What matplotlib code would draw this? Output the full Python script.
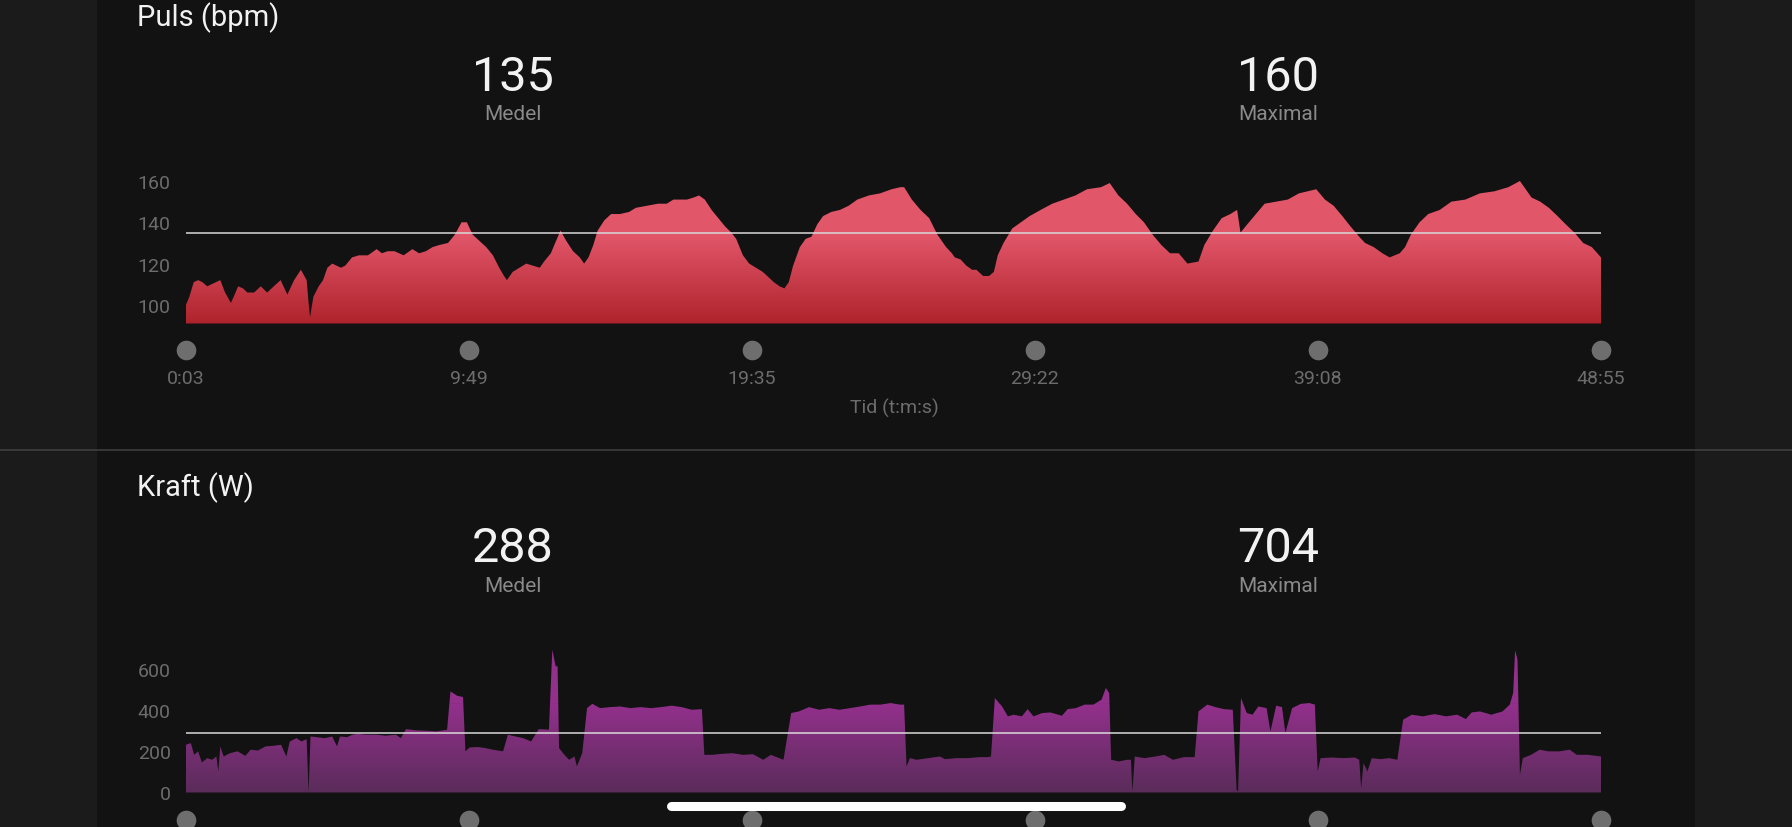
import matplotlib
matplotlib.use("Agg")
import matplotlib.pyplot as plt
import matplotlib.transforms as mtransforms
from matplotlib.colors import LinearSegmentedColormap
from matplotlib.patches import Rectangle
from matplotlib.lines import Line2D
import numpy as np

plt.rcParams['font.family'] = ['Roboto', 'DejaVu Sans']

# heart rate (time in s, bpm)
hr_time = [3, 10, 19, 28, 37, 47, 56, 65, 74, 84,
           96, 102, 111, 121, 130, 144, 158, 171, 185, 199,
           213, 227, 241, 253, 257, 260, 267, 278, 287, 296,
           306, 315, 324, 333, 347, 361, 380, 398, 409, 421,
           435, 454, 472, 486, 500, 514, 528, 546, 560, 574,
           585, 597, 611, 625, 639, 652, 662, 668, 680, 694,
           708, 722, 736, 745, 759, 768, 779, 791, 805, 819,
           828, 837, 847, 856, 870, 884, 902, 921, 935, 958,
           981, 999, 1013, 1041, 1055, 1066, 1078, 1092, 1106, 1120,
           1133, 1143, 1157, 1170, 1184, 1198, 1212, 1221, 1233, 1243,
           1252, 1261, 1275, 1287, 1299, 1311, 1323, 1340, 1358, 1376,
           1394, 1418, 1441, 1465, 1483, 1491, 1507, 1525, 1543, 1560,
           1578, 1590, 1596, 1608, 1620, 1632, 1641, 1650, 1655, 1667,
           1677, 1685, 1697, 1715, 1733, 1751, 1774, 1798, 1822, 1846,
           1870, 1899, 1917, 1935, 1953, 1971, 1988, 2006, 2024, 2042,
           2060, 2078, 2101, 2113, 2131, 2149, 2167, 2181, 2188, 2202,
           2220, 2238, 2262, 2286, 2309, 2327, 2345, 2363, 2381, 2399,
           2416, 2434, 2446, 2464, 2482, 2497, 2518, 2529, 2541, 2559,
           2577, 2601, 2625, 2654, 2684, 2714, 2743, 2767, 2791, 2809,
           2827, 2845, 2862, 2880, 2898, 2916, 2935]
hr_bpm = [100, 104, 111, 112, 111, 109, 110, 111, 112, 106,
          101, 104, 109, 108, 106, 106, 109, 106, 109, 112,
          105, 112, 117, 112, 101, 94, 104, 109, 112, 118,
          120, 119, 118, 119, 123, 124, 124, 127, 125, 126,
          126, 124, 127, 125, 126, 128, 129, 130, 134, 140,
          140, 134, 131, 128, 124, 118, 114, 112, 116, 118,
          120, 119, 118, 121, 125, 130, 136, 131, 126, 123,
          120, 123, 129, 136, 141, 144, 144, 145, 147, 148,
          149, 149, 151, 151, 152, 153, 151, 146, 142, 138,
          135, 132, 124, 120, 118, 116, 113, 111, 109, 108,
          111, 119, 128, 132, 133, 139, 143, 145, 146, 148,
          151, 153, 154, 156, 157, 157, 151, 146, 142, 134,
          128, 125, 123, 122, 119, 117, 117, 115, 114, 114,
          116, 124, 130, 137, 140, 143, 146, 149, 151, 153,
          156, 157, 159, 153, 149, 144, 140, 134, 129, 125,
          125, 120, 121, 129, 136, 142, 144, 146, 135, 139,
          144, 149, 150, 151, 154, 155, 156, 151, 148, 143,
          138, 133, 130, 128, 125, 123, 125, 128, 134, 140,
          144, 146, 150, 151, 154, 155, 157, 160, 152, 150,
          147, 143, 139, 135, 130, 128, 123]

# power (time in s, watts)
pw_time = [3, 13, 20, 28, 36, 47, 57, 66, 70, 74,
           81, 94, 110, 126, 137, 152, 168, 184, 200, 211,
           218, 232, 242, 253, 257, 261, 274, 290, 306, 316,
           322, 337, 348, 359, 374, 396, 417, 438, 448, 459,
           480, 501, 522, 544, 551, 565, 577, 582, 591, 607,
           623, 639, 660, 670, 686, 702, 718, 734, 755, 762,
           769, 773, 776, 787, 797, 808, 813, 824, 834, 845,
           861, 882, 903, 924, 945, 966, 988, 1009, 1030, 1051,
           1072, 1077, 1093, 1114, 1135, 1157, 1178, 1199, 1215, 1241,
           1257, 1273, 1294, 1315, 1336, 1357, 1379, 1400, 1421, 1442,
           1463, 1482, 1491, 1496, 1503, 1517, 1541, 1565, 1576, 1600,
           1623, 1647, 1665, 1671, 1679, 1694, 1706, 1718, 1735, 1747,
           1759, 1777, 1794, 1818, 1830, 1847, 1865, 1883, 1900, 1909,
           1916, 1920, 1936, 1953, 1961, 1964, 1969, 1989, 2012, 2030,
           2048, 2071, 2093, 2101, 2119, 2136, 2154, 2172, 2180, 2183,
           2189, 2201, 2213, 2225, 2242, 2250, 2262, 2274, 2281, 2295,
           2313, 2331, 2342, 2348, 2354, 2378, 2401, 2425, 2434, 2438,
           2443, 2451, 2460, 2478, 2496, 2513, 2525, 2543, 2566, 2590,
           2614, 2637, 2655, 2667, 2684, 2708, 2731, 2746, 2753, 2757,
           2762, 2767, 2773, 2790, 2808, 2826, 2849, 2870, 2885, 2908,
           2935]
pw_watt = [232, 240, 183, 200, 146, 167, 159, 175, 102, 224,
           175, 191, 200, 178, 208, 204, 224, 227, 232, 175,
           248, 264, 248, 259, 0, 272, 269, 264, 272, 224,
           272, 269, 281, 285, 281, 281, 276, 281, 264, 308,
           302, 300, 297, 305, 491, 470, 464, 200, 219, 221,
           216, 208, 200, 281, 272, 264, 248, 308, 305, 694,
           613, 613, 216, 183, 159, 175, 127, 191, 410, 431,
           410, 415, 418, 410, 415, 410, 415, 422, 415, 402,
           405, 183, 183, 188, 191, 183, 186, 159, 183, 159,
           386, 394, 415, 402, 410, 402, 410, 418, 427, 427,
           435, 427, 427, 127, 167, 159, 167, 175, 162, 167,
           167, 172, 172, 175, 459, 418, 370, 378, 370, 405,
           370, 386, 389, 373, 405, 410, 427, 427, 451, 508,
           483, 159, 151, 159, 159, 5, 175, 167, 175, 183,
           159, 172, 172, 394, 427, 415, 405, 402, 13, 5,
           459, 386, 378, 418, 410, 297, 422, 415, 289, 410,
           431, 435, 427, 102, 167, 170, 167, 170, 159, 21,
           143, 102, 167, 162, 167, 159, 354, 378, 370, 381,
           370, 378, 357, 389, 394, 378, 394, 427, 483, 691,
           646, 86, 167, 183, 208, 200, 200, 208, 183, 183,
           175]

hr_avg, hr_max = 135, 160
pw_avg, pw_max = 288, 704

tick_pos = [3, 589, 1175, 1762, 2348, 2935]
tick_lbl = ["0:03", "9:49", "19:35", "29:22", "39:08", "48:55"]

W, H = 1792, 828
fig = plt.figure(figsize=(W / 100, H / 100), dpi=100, facecolor="#1b1b1b")

def fx(x):
    return x / W

def fy(y):
    return 1 - y / H

# dark centre panel and the divider
fig.patches.append(Rectangle((fx(97), 0), fx(1695) - fx(97), 1, transform=fig.transFigure,
                             facecolor="#121212", edgecolor="none", zorder=-5))
fig.lines.append(Line2D([0, 1], [fy(451), fy(451)], transform=fig.transFigure,
                        color="#3e3e3e", lw=1.2, zorder=-4))

white = "#f2f2f2"
grey = "#8a8a8a"
tickgrey = "#6c6c6c"


def panel(top_px, num_dy, lbl_dy, title, avg, mx, ylim, y0px, y1px, yticks, t, v,
          c_lo, c_hi, dot_y, lbl_y):
    fig.text(fx(137), fy(top_px), title, color=white, fontsize=21, va="center", ha="left")
    for xc, val, name in [(513, avg, "Medel"), (1278, mx, "Maximal")]:
        fig.text(fx(xc), fy(top_px + num_dy), str(val), color=white, fontsize=35,
                 ha="center", va="center")
        fig.text(fx(xc), fy(top_px + lbl_dy), name, color=grey, fontsize=15,
                 ha="center", va="center")

    ax = fig.add_axes([fx(186), fy(y0px), fx(1601) - fx(186), (y0px - y1px) / H])
    ax.set_zorder(2)
    ax.set_facecolor("none")
    gtop = max(v) * 0.62 + ylim[0] * 0.38
    poly = ax.fill_between(t, v, ylim[0], color="none", lw=0)
    clip = poly.get_paths()[0]
    cmap = LinearSegmentedColormap.from_list("g", [c_lo, c_hi])
    grad = np.linspace(0, 1, 256).reshape(-1, 1)
    im = ax.imshow(grad, extent=[t[0], t[-1], ylim[0], gtop],
                   aspect="auto", cmap=cmap, origin="lower", zorder=1)
    im.set_clip_path(clip, transform=ax.transData)
    # above the gradient the colour stays flat
    ax.fill_between(t, v, gtop, where=[x > gtop for x in v], interpolate=True,
                    color=c_hi, lw=0, zorder=1)
    ax.plot([t[0], t[-1]], [avg, avg], color="#d9d9d9", lw=1.1, zorder=3)

    ax.set_xlim(t[0], t[-1])
    ax.set_ylim(*ylim)
    ax.set_yticks(yticks)
    ax.set_yticklabels([str(y) for y in yticks])
    ax.tick_params(axis="y", length=0, pad=11, labelsize=14, labelcolor=tickgrey)
    ax.set_xticks([])
    for s in ax.spines.values():
        s.set_visible(False)

    tr = mtransforms.blended_transform_factory(ax.transData, fig.transFigure)
    ax.scatter(tick_pos, [fy(dot_y)] * len(tick_pos), s=200, color="#6e6e6e",
               transform=tr, clip_on=False, zorder=5, lw=0)
    if lbl_y is not None:
        for p, lbl in zip(tick_pos, tick_lbl):
            ax.text(p, fy(lbl_y), lbl, transform=tr, color=tickgrey, fontsize=14,
                    ha="center", va="center")
    return ax


ax1 = panel(18, 60, 97, "Puls (bpm)", hr_avg, hr_max, (91, 172), 324.5, 157.2,
            [100, 120, 140, 160], hr_time, hr_bpm, "#ae232b", "#e2566a", 351, 379)
fig.text(fx(894), fy(408), "Tid (t:m:s)", color=tickgrey, fontsize=14, ha="center", va="center")

ax2 = panel(488, 61, 98, "Kraft (W)", pw_avg, pw_max, (0, 740), 793.5, 641.2,
            [0, 200, 400, 600], pw_time, pw_watt, "#5a2c5a", "#93308c", 821, None)

# home indicator
fig.lines.append(Line2D([fx(671), fx(1121)], [fy(807), fy(807)], transform=fig.transFigure,
                        color="white", lw=6.5, solid_capstyle="round", zorder=10))

fig.savefig("out.png", dpi=100, facecolor=fig.get_facecolor())
